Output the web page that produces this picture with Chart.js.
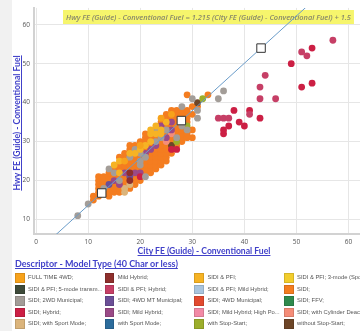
<!DOCTYPE html>
<html>
<head>
<meta charset="utf-8">
<script src="https://cdn.jsdelivr.net/npm/chart.js@4.4.0/dist/chart.umd.min.js"></script>
<style>
  html, body { margin: 0; padding: 0; }
  body { width: 360px; height: 331px; overflow: hidden; background: #f1f1f1; position: relative; }
  #panel { position: absolute; left: 12px; top: 0; width: 380px; height: 331px; background: #fff; }
  #box { position: absolute; left: 0; top: 0; width: 380px; height: 258px; }
  .axis-title { position: absolute; font-family: Lato, sans-serif; font-weight: 700; font-size: 8.6px;
    color: #4141c9; text-decoration: underline; white-space: nowrap; text-align: center; line-height: 12px; }
  #xtitle { left: 104px; top: 245px; width: 200px; }
  #ytitle { left: -83px; top: 117px; width: 200px; transform: rotate(-90deg); }
  #legend-title { position: absolute; left: 15px; top: 258px; font-family: Lato, sans-serif; font-weight: 700;
    font-size: 9px; color: #4141c9; text-decoration: underline; white-space: nowrap; line-height: 12px; }
  #legend { position: absolute; left: 15px; top: 272px; width: 380px; }
  .item { position: absolute; height: 11px; white-space: nowrap; font-family: "Liberation Sans", Arial, sans-serif;
    font-size: 5.8px; color: #555; line-height: 11px; }
  .item i { position: absolute; left: 0; top: 1px; width: 9.5px; height: 9.5px; box-sizing: border-box;
    border: 1px solid rgba(0,0,0,0.12); }
  .item span { position: absolute; left: 13px; top: 0; }
</style>
</head>
<body>
<div id="panel"></div>
<div id="box"><canvas id="chart" width="380" height="258"></canvas></div>
<div id="xtitle" class="axis-title">City FE (Guide) - Conventional Fuel</div>
<div id="ytitle" class="axis-title">Hwy FE (Guide) - Conventional Fuel</div>
<div id="legend-title">Descriptor - Model Type (40 Char or less)</div>
<div id="legend"></div>
<script>
// legend categories (alphabetical, as in the source legend)
var categories = [
  "FULL TIME 4WD;", "Mild Hybrid;", "SIDI & PFI;", "SIDI & PFI; 3-mode (Spo...",
  "SIDI & PFI; 5-mode transm...", "SIDI & PFI; Hybrid;", "SIDI & PFI; Mild Hybrid;", "SIDI;",
  "SIDI; 2WD Municipal;", "SIDI; 4WD MT Municipal;", "SIDI; 4WD Municipal;", "SIDI; FFV;",
  "SIDI; Hybrid;", "SIDI; Mild Hybrid;", "SIDI; Mild Hybrid; High Po...", "SIDI; with Cylinder Deact...",
  "SIDI; with Sport Mode;", "with Sport Mode;", "with Stop-Start;", "without Stop-Start;"
];
var colors = [
  "#f7a21b", "#8e2f2c", "#f6b324", "#f2cd2d",
  "#3e4a3a", "#c63f66", "#a9c5df", "#f47d20",
  "#a39d98", "#6b4f97", "#e24a2f", "#2f8a4d",
  "#cc1f44", "#9a4a87", "#f28aa6", "#f58d78",
  "#dbb47b", "#2c6c9c", "#9cae2b", "#6d4527"
];

var xTicks = [0, 10, 20, 30, 40, 50, 60];
var yTicks = [10, 20, 30, 40, 50, 60];

// [city mpg, hwy mpg] per category
var fullTime4wd = [[17,25],[20,29],[24,36],[26,37]];
var mildHybrid = [[18,20],[18,22]];
var sidiPfi = [[15,24],[16,25],[16,22],[18,27],[19,27],[20,28],[21,29],[22,30],[22,32],[22,33],
  [23,32],[23,34],[24,32],[24,33],[25,35]];
var sidiPfi3mode = [];
var sidiPfi5mode = [];
var sidiPfiHybrid = [[57,56],[51,53],[52,52],[44,47],[43,44],[43,41],[46,41],[41,37],[35,36],[36,36],[37,36]];
var sidiPfiMild = [];
var sidi = [
  [11,15],[11,16],
  [12,16],[12,17],[12,18],[12,19],[12,20],[12,21],
  [13,17],[13,19],[13,20],[13,21],
  [14,16],[14,17],[14,18],[14,20],[14,21],[14,22],
  [15,17],[15,18],[15,19],[15,21],[15,23],
  [16,17],[16,18],[16,21],[16,23],[16,24],[16,26],
  [17,19],[17,20],[17,21],[17,23],[17,24],[17,26],[17,27],
  [18,18],[18,23],[18,24],[18,25],[18,28],[18,29],
  [19,19],[19,20],[19,21],[19,23],[19,24],[19,25],[19,26],[19,29],
  [20,20],[20,23],[20,26],[20,30],
  [21,22],[21,23],[21,24],[21,25],[21,28],[21,30],[21,31],[21,32],
  [22,22],[22,23],[22,24],[22,25],[22,26],[22,27],[22,29],[22,31],
  [23,23],[23,24],[23,25],[23,26],[23,27],[23,28],[23,31],
  [24,24],[24,25],[24,26],[24,27],[24,28],[24,29],[24,30],[24,35],
  [25,25],[25,26],[25,27],[25,28],[25,29],[25,32],[25,34],[25,36],[25,37],
  [26,27],[26,30],[26,31],[26,34],[26,36],[26,38],
  [27,29],[27,32],[27,33],[27,34],[27,35],[27,36],[27,37],[27,38],
  [28,30],[28,31],[28,32],[28,33],[28,35],[28,36],[28,37],[28,38],
  [29,31],[29,32],[29,35],[29,36],[29,37],[29,38],[29,42],
  [30,31],[30,33],[30,37],[30,39],
  [31,39],[33,42]
];
var sidi2wdMunicipal = [[8,11],[10,14],[13,18],[14,23],[15,22],[16,20],[18,26],[19,28],[20,27],[20,24],
  [20,25],[21,21],[21,26],[23,30],[23,33],[24,31],[25,33],[27,31],[28,34],[29,33],[28,39],[31,36],
  [31,38],[30,41],[35,41],[36,43]];
var sidi4wdMt = [[14,19],[18,21]];
var sidi4wdMunicipal = [];
var sidiFfv = [];
var sidiHybrid = [[53,54],[53,45],[41,38],[40,34],[36,32],[36,33],[37,34],[39,35],[38,38],[43,36],
  [49,50],[51,44],[20,21],[26,28],[27,28]];
var sidiMild = [[15,20],[16,19],[17,22],[19,22],[20,22],[21,27],[22,28],[23,29],[24,34],[25,31],[26,33],[26,35]];
var sidiMildHighPo = [];
var sidiCylDeact = [[25,30],[26,32]];
var sidiSport = [[17,18],[17,17],[18,19]];
var withSport = [];
var withStopStart = [[27,30],[29,34],[32,41]];
var withoutStopStart = [[26,29],[31,40]];

var seriesPoints = [fullTime4wd, mildHybrid, sidiPfi, sidiPfi3mode, sidiPfi5mode, sidiPfiHybrid,
  sidiPfiMild, sidi, sidi2wdMunicipal, sidi4wdMt, sidi4wdMunicipal, sidiFfv, sidiHybrid, sidiMild,
  sidiMildHighPo, sidiCylDeact, sidiSport, withSport, withStopStart, withoutStopStart];

// trend line and its handles
var fitSlope = 1.215;
var fitIntercept = 1.5;
var lineEnds = [0, 60];
var handleX = [12.6, 27.9, 43.2];
var equationText = "Hwy FE (Guide) - Conventional Fuel = 1.215 (City FE (Guide) - Conventional Fuel) + 1.5";

// html legend
var legendEl = document.getElementById('legend');
for (var i = 0; i < categories.length; i++) {
  var d = document.createElement('div');
  d.className = 'item';
  d.style.left = (i % 4) * 89.7 + 'px';
  d.style.top = Math.floor(i / 4) * 11.6 + 'px';
  d.innerHTML = '<i style="background:' + colors[i] + '"></i><span></span>';
  d.querySelector('span').textContent = categories[i];
  legendEl.appendChild(d);
}

var datasets = [];
datasets.push({
  type: 'scatter', label: 'handles', order: -2,
  data: handleX.map(function(x){ return {x: x, y: fitSlope * x + fitIntercept}; }),
  pointStyle: 'rect', pointRadius: 6, backgroundColor: '#fff', borderColor: '#333', borderWidth: 1
});
datasets.push({
  type: 'line', label: 'fit', order: -1,
  data: lineEnds.map(function(x){ return {x: x, y: fitSlope * x + fitIntercept}; }),
  borderColor: '#6a9cc9', borderWidth: 1, pointRadius: 0, fill: false
});
for (var k = 0; k < categories.length; k++) {
  datasets.push({
    type: 'scatter', label: categories[k], order: (k === 7 ? 2 : 1),
    data: seriesPoints[k].map(function(p){ return {x: p[0], y: p[1]}; }),
    backgroundColor: colors[k], borderWidth: 0, pointRadius: 3.4, pointHoverRadius: 3.4
  });
}

var eqLabel = {
  id: 'eqLabel',
  beforeDatasetsDraw: function(chart) {
    var ctx = chart.ctx, area = chart.chartArea;
    ctx.save();
    ctx.font = 'italic 600 7.45px "Open Sans"';
    var w = ctx.measureText(equationText).width;
    var x = area.left + 29, y = 10;
    ctx.fillStyle = '#f6f56c';
    ctx.fillRect(x, y, w + 6, 14);
    ctx.fillStyle = '#88886a';
    ctx.textBaseline = 'middle';
    ctx.fillText(equationText, x + 3, y + 7.5);
    ctx.restore();
  }
};

new Chart(document.getElementById('chart'), {
  type: 'scatter',
  data: { datasets: datasets },
  options: {
    responsive: false,
    animation: false,
    layout: { padding: { top: 5, right: 6, left: 0, bottom: 0 } },
    plugins: { legend: { display: false }, tooltip: { enabled: false } },
    scales: {
      x: {
        type: 'linear', min: -0.4, max: 64.7,
        ticks: { padding: 4, color: '#555', font: { family: 'Open Sans', size: 6.5 } },
        afterBuildTicks: function(axis){ axis.ticks = xTicks.map(function(v){ return {value: v}; }); },
        afterFit: function(s){ s.height = 24; },
        grid: { color: '#e6e6e6', drawTicks: false },
        border: { color: '#d2d2d2', width: 2 }
      },
      y: {
        type: 'linear', min: 6.3, max: 64.3,
        ticks: { padding: 4, color: '#555', font: { family: 'Open Sans', size: 6.5 } },
        afterBuildTicks: function(axis){ axis.ticks = yTicks.map(function(v){ return {value: v}; }); },
        afterFit: function(s){ s.width = 34; },
        grid: { color: '#e6e6e6', drawTicks: false },
        border: { color: '#d2d2d2', width: 2 }
      }
    }
  },
  plugins: [eqLabel]
});
</script>
</body>
</html>
